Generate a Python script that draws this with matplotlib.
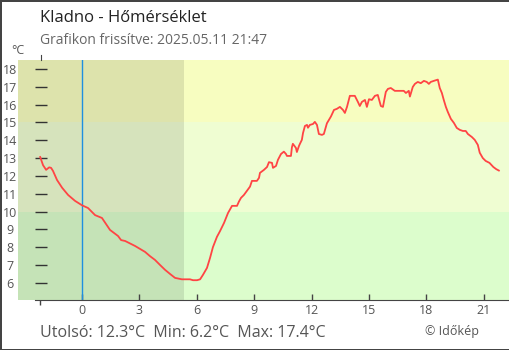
import matplotlib
matplotlib.use("Agg")
import matplotlib.pyplot as plt

plt.rcParams['font.family'] = ['Open Sans', 'DejaVu Sans']

# hours relative to midnight, temperature in °C
hours = [-2.19, -2.04, -1.88, -1.72, -1.62, -1.52, -1.31, -1.04, -0.73, -0.37,
         0.0, 0.31, 0.68, 1.04, 1.25, 1.46, 1.88, 2.04, 2.25, 2.77,
         3.29, 3.55, 3.81, 4.08, 4.34, 4.6, 4.86, 5.22, 5.64, 5.8,
         6.01, 6.17, 6.32, 6.53, 6.69, 6.84, 7.05, 7.21, 7.42, 7.63,
         7.84, 8.1, 8.2, 8.31, 8.46, 8.78, 8.88, 9.14, 9.25, 9.3,
         9.51, 9.67, 9.77, 9.93, 9.98, 10.14, 10.24, 10.4, 10.55, 10.66,
         10.71, 10.92, 10.97, 11.02, 11.18, 11.23, 11.34, 11.39, 11.49, 11.55,
         11.65, 11.76, 11.81, 11.91, 12.07, 12.17, 12.28, 12.38, 12.54, 12.64,
         12.8, 13.01, 13.17, 13.32, 13.48, 13.64, 13.74, 13.85, 14.0, 14.26,
         14.42, 14.52, 14.63, 14.79, 14.89, 15.0, 15.15, 15.31, 15.46, 15.62,
         15.73, 15.88, 15.99, 16.14, 16.35, 16.67, 16.82, 16.93, 17.08, 17.14,
         17.29, 17.4, 17.55, 17.71, 17.87, 18.02, 18.13, 18.23, 18.39, 18.6,
         18.7, 18.81, 18.91, 19.02, 19.12, 19.28, 19.44, 19.59, 19.75, 19.91,
         20.06, 20.17, 20.38, 20.53, 20.69, 20.79, 20.95, 21.1, 21.3, 21.5,
         21.65, 21.79]
temps = [13.06, 12.6, 12.34, 12.48, 12.45, 12.28, 11.77, 11.33, 10.93, 10.6,
         10.35, 10.2, 9.8, 9.64, 9.3, 8.97, 8.63, 8.4, 8.35, 8.07,
         7.74, 7.5, 7.29, 7.0, 6.73, 6.5, 6.28, 6.2, 6.2, 6.15,
         6.15, 6.2, 6.45, 6.84, 7.4, 8.0, 8.58, 8.9, 9.36, 9.92,
         10.32, 10.32, 10.56, 10.77, 10.93, 11.4, 11.72, 11.72, 11.89, 12.17,
         12.34, 12.5, 12.77, 12.73, 12.45, 12.56, 12.9, 13.23, 13.36, 13.23,
         13.12, 13.12, 13.6, 13.8, 13.57, 13.34, 13.68, 13.8, 14.02, 14.4,
         14.8, 14.86, 14.7, 14.86, 14.91, 15.03, 14.86, 14.35, 14.3, 14.35,
         14.95, 15.33, 15.7, 15.76, 15.87, 15.7, 15.53, 15.87, 16.49, 16.49,
         16.15, 15.92, 16.15, 16.26, 15.87, 16.3, 16.26, 16.49, 16.54, 15.92,
         15.87, 16.71, 16.88, 16.93, 16.77, 16.77, 16.77, 16.65, 16.77, 16.45,
         16.99, 17.16, 17.27, 17.2, 17.33, 17.27, 17.16, 17.27, 17.33, 17.4,
         16.93, 16.65, 16.26, 15.87, 15.59, 15.2, 14.97, 14.69, 14.58, 14.52,
         14.52, 14.35, 14.18, 14.02, 13.74, 13.3, 13.0, 12.84, 12.73, 12.5,
         12.38, 12.3]

x_ticks = [0, 3, 6, 9, 12, 15, 18, 21]
y_ticks = [6, 7, 8, 9, 10, 11, 12, 13, 14, 15, 16, 17, 18]
band_edges = [10, 15]
night_end = 5.34
data_start = -2.19

fig = plt.figure(figsize=(5.1, 3.5), dpi=100)
fig.patch.set_edgecolor('#444444')
fig.patch.set_linewidth(2)
ax = fig.add_axes([18 / 510, 50 / 350, 491 / 510, 240 / 350])

xmin, xmax = -3.35, 22.32
ymin, ymax = 5.04, 18.5
ax.set_xlim(xmin, xmax)
ax.set_ylim(ymin, ymax)

# temperature bands
ax.axhspan(ymin, band_edges[0], color='#dcfdcc', lw=0, zorder=0)
ax.axhspan(band_edges[0], band_edges[1], color='#effdd2', lw=0, zorder=0)
ax.axhspan(band_edges[1], ymax, color='#f7fdc0', lw=0, zorder=0)
# night shading
ax.axvspan(xmin, night_end, color='black', alpha=0.1, lw=0, zorder=1)
# midnight
ax.axvline(0, color='#1e8fe0', lw=1, zorder=2)

ax.plot(hours, temps, color='#ff4444', lw=1.3, zorder=3)

for s in ['top', 'right']:
    ax.spines[s].set_visible(False)
ax.spines['bottom'].set_bounds(-2.46, xmax)
ax.spines['bottom'].set_color('#444444')
ax.spines['left'].set_position(('data', -2.13))
ax.spines['left'].set_bounds(ymax, ymax + 0.28)
ax.spines['left'].set_color('#444444')

ax.set_xticks(x_ticks)
ax.set_xticks([data_start, 0], minor=True)
ax.tick_params(axis='x', which='major', direction='in', length=4.3, width=1,
               color='#444444', labelcolor='#555555', labelsize=9, pad=3)
ax.tick_params(axis='x', which='minor', direction='out', length=3.6, width=1,
               color='#444444')

ax.set_yticks(y_ticks)
ax.tick_params(axis='y', direction='inout', length=8.6, width=1,
               color='#333333', labelcolor='#555555', labelsize=9, pad=18)
for lbl in ax.get_yticklabels():
    lbl.set_horizontalalignment('center')

fig.text(18 / 510, 1 - 50 / 350, '°C', fontsize=9, color='#555555',
         ha='center', va='center')
fig.text(40 / 510, 1 - 18 / 350, 'Kladno - Hőmérséklet', fontsize=12,
         color='#222222', va='center')
fig.text(40 / 510, 1 - 41 / 350, 'Grafikon frissítve: 2025.05.11 21:47',
         fontsize=10, color='#666666', va='center')
fig.text(40 / 510, 1 - 333 / 350,
         f'Utolsó: {temps[-1]:.1f}°C  Min: {min(temps):.1f}°C  Max: {max(temps):.1f}°C',
         fontsize=11.5, color='#555555', va='center')
fig.text(425 / 510, 1 - 331 / 350, '© Időkép', fontsize=9, color='#555555',
         va='center')

fig.savefig('out.png', dpi=100, edgecolor=fig.get_edgecolor())
